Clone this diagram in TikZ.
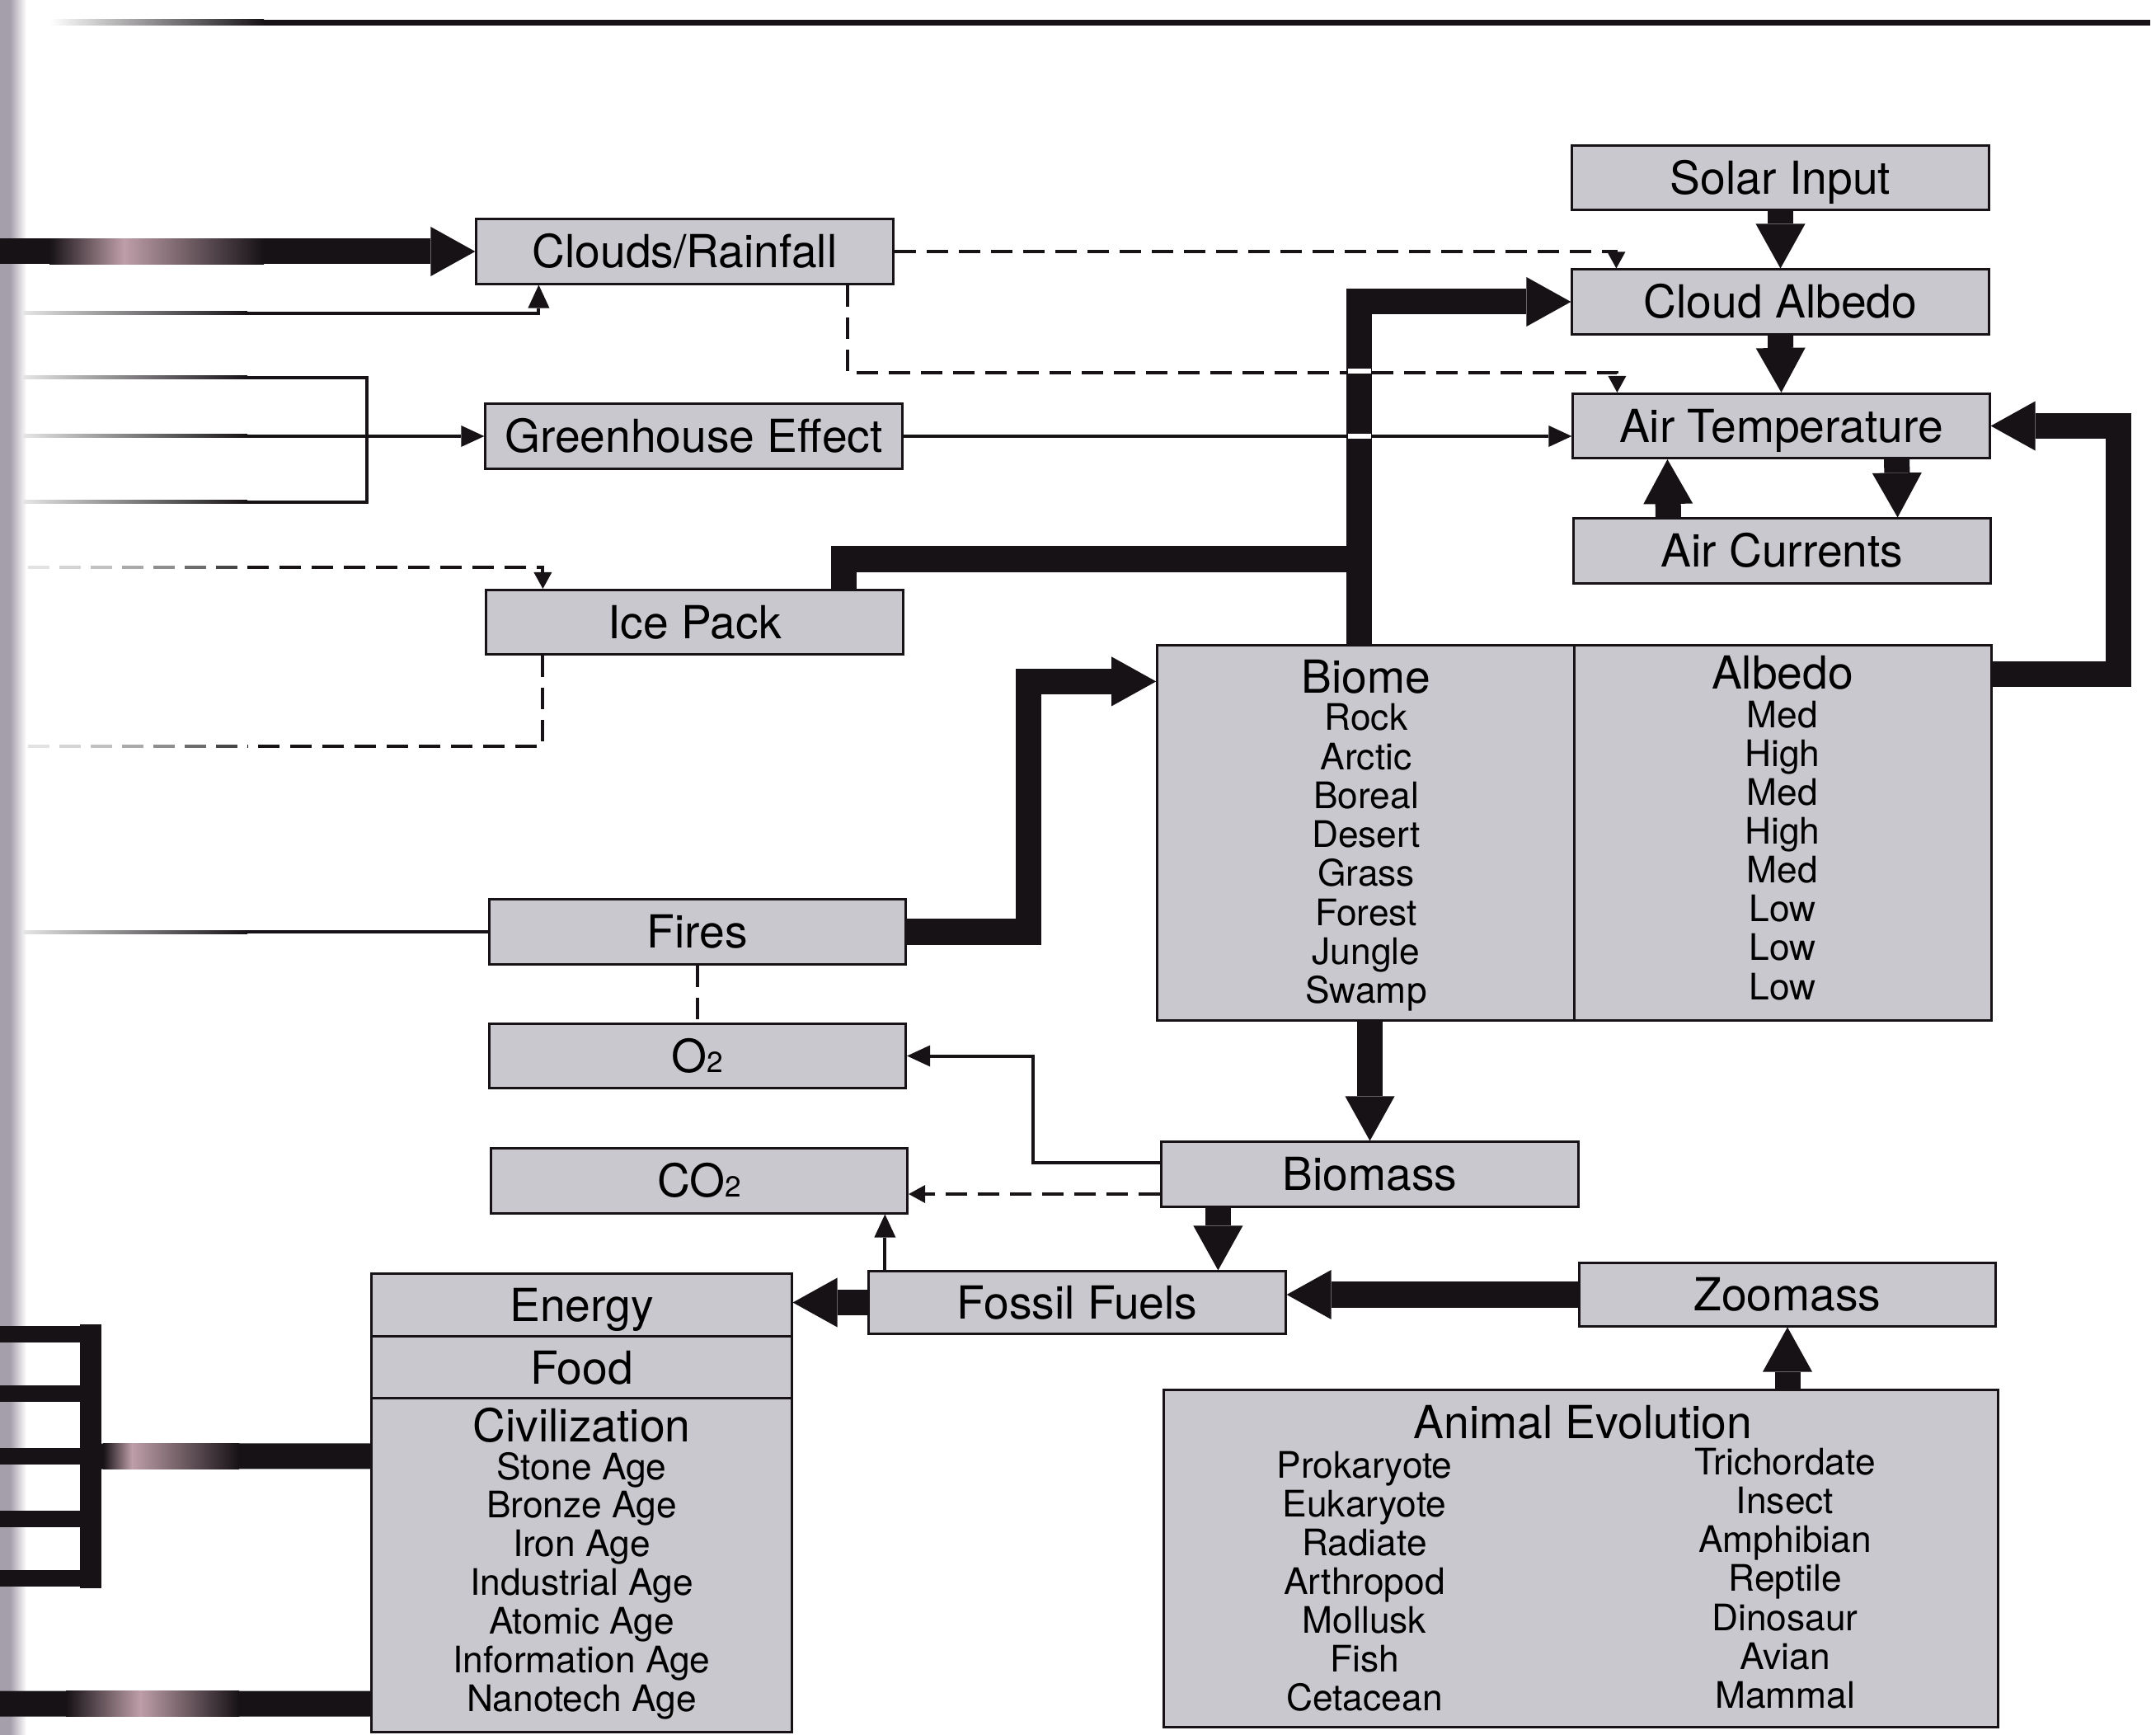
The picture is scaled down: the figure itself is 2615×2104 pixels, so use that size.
\documentclass[tikz,border=0pt]{standalone}
\usepackage{fontspec}
\setmainfont{TeX Gyre Heros}
\usetikzlibrary{arrows.meta,calc}
\definecolor{boxfill}{RGB}{200,200,206}
\definecolor{ink}{RGB}{22,18,22}
\definecolor{tailpink}{RGB}{190,158,168}
\definecolor{gutter}{RGB}{135,125,143}
\newcommand\titlefont{\fontsize{15.7}{18}\selectfont}
\newcommand\itemfont{\fontsize{12.6}{15}\selectfont}
\newcommand\subtwo{{\fontsize{10}{10}\selectfont 2}}
\begin{document}
\begin{tikzpicture}[x=0.01cm,y=-0.01cm,
 box/.style={draw=ink, line width=0.03cm, fill=boxfill, inner sep=0pt, minimum width=5.05cm, minimum height=0.78cm, font=\titlefont, text height=11.3pt, text depth=0pt},
 bigbox/.style={draw=ink, line width=0.03cm, fill=boxfill, inner sep=0pt},
 hd/.style={anchor=base, inner sep=0pt, font=\titlefont},
 itm/.style={anchor=base, inner sep=0pt, font=\itemfont},
 thickline/.style={draw=ink, line width=0.31cm},
 thickarr/.style={thickline, -{Triangle[length=0.54cm,width=0.6cm,line width=0pt]}},
 thinline/.style={draw=ink, line width=0.04cm},
 thinarr/.style={thinline, -{Triangle[length=0.28cm,width=0.26cm,line width=0pt]}},
 dashline/.style={draw=ink, line width=0.04cm, dash pattern=on 0.26cm off 0.13cm},
 dasharr/.style={dashline, -{Triangle[length=0.2cm,width=0.22cm,line width=0pt]}},
]
\fill[white] (0,0) rectangle (2615,2104);
\useasboundingbox (0,0) rectangle (2615,2104);

% page gutter and top rule
\fill[gutter!75] (0,0) rectangle (12,2104);
\shade[left color=gutter!75, right color=white] (12,0) rectangle (32,2104);
\shade[left color=white, right color=ink] (60,24) rectangle (320,31);
\fill[ink] (320,24) rectangle (2608,31);

% ---------- boxes ----------
\node[box] (solar) at (2159.5,215.5) {Solar Input};
\node[box] (calb) at (2159.5,366) {Cloud Albedo};
\node[box] (airt) at (2160.5,516.5) {Air Temperature};
\node[box] (airc) at (2161.5,668) {Air Currents};
\node[box] (clouds) at (830.5,305) {Clouds/Rainfall};
\node[box] (gh) at (841.5,529) {Greenhouse Effect};
\node[box] (ice) at (842.5,754.5) {Ice Pack};
\node[box] (fires) at (846,1130) {Fires};
\node[box] (o2) at (846,1280.5) {O\subtwo};
\node[box] (co2) at (848,1432) {CO\subtwo};
\node[box] (biomass) at (1661.5,1424) {Biomass};
\node[box, minimum height=0.75cm] (fossil) at (1306.5,1579.5) {Fossil Fuels};
\node[box, minimum height=0.76cm] (zoomass) at (2168,1570) {Zoomass};
\node[box, minimum width=5.09cm, minimum height=0.76cm] (energy) at (705.5,1583) {Energy};
\node[box, minimum width=5.09cm, minimum height=0.75cm] (food) at (705.5,1658.5) {Food};
\node[bigbox, minimum width=5.09cm, minimum height=4.04cm] (civ) at (705.5,1898) {};
\node[bigbox, minimum width=10.11cm, minimum height=4.54cm] (biomebox) at (1909.5,1010) {};
\draw[ink, line width=0.03cm] (biomebox.north) -- (biomebox.south);
\node[bigbox, minimum width=10.11cm, minimum height=4.08cm] (animal) at (1917.5,1890) {};

% ---------- texts of the large boxes ----------
\node[hd] (tbiome) at (1657,841) {Biome};
\foreach \t [count=\i from 0] in {Rock,Arctic,Boreal,Desert,Grass,Forest,Jungle,Swamp}
  \node[itm] (bi\i) at (1657,{886+47.2*\i}) {\t};
\node[hd] (talbedo) at (2162,836) {Albedo};
\foreach \t [count=\i from 0] in {Med,High,Med,High,Med,Low,Low,Low}
  \node[itm] (al\i) at (2162,{882.6+47.06*\i}) {\t};
\node[hd] (tciv) at (705.5,1748) {Civilization};
\foreach \t [count=\i from 0] in {Stone Age,Bronze Age,Iron Age,Industrial Age,Atomic Age,Information Age,Nanotech Age}
  \node[itm] (ci\i) at (705.5,{1794+46.9*\i}) {\t};
\node[hd] (tanimal) at (1920,1744) {Animal Evolution};
\foreach \t [count=\i from 0] in {Prokaryote,Eukaryote,Radiate,Arthropod,Mollusk,Fish,Cetacean}
  \node[itm] (an\i) at (1655,{1792+47.1*\i}) {\t};
\foreach \t [count=\i from 0] in {Trichordate,Insect,Amphibian,Reptile,Dinosaur,Avian,Mammal}
  \node[itm] (ar\i) at (2165,{1788+47.25*\i}) {\t};

% ---------- free ends ----------
\coordinate (inClouds) at (0,305);
\coordinate (inRain) at (300,380);
\coordinate (ghA) at (300,458);
\coordinate (ghB) at (300,529);
\coordinate (ghC) at (300,609);
\coordinate (ghT) at (445,458);
\coordinate (ghU) at (445,609);
\coordinate (inIce) at (300,688);
\coordinate (outIce) at (300,905);
\coordinate (outFires) at (300,1130);
\coordinate (icejoin) at (1650,678);
\coordinate (civJ) at (123,1766);
\coordinate (civOut) at (0,2066);

% ---------- thick connectors ----------
\draw[thickline] ([xshift=-0.73cm]ice.north east) |- (icejoin);
\draw[thickarr] ([xshift=2.46cm]biomebox.north west) |- (calb.west);
\draw[thickarr] (fires.east) -- ++(147,0) |- ([yshift=-0.45cm]biomebox.north west);
\draw[thickarr] ([yshift=-0.36cm]biomebox.north east) -- ++(153,0) |- (airt.east);
\draw[thickarr] (solar.south) -- (calb.north);
\draw[thickarr] (calb.south) -- (airt.north);
\draw[thickarr] ([xshift=-1.14cm]airt.south east) -- ([xshift=-1.14cm]airc.north east);
\draw[thickarr] ([xshift=1.16cm]airc.north west) -- ([xshift=1.16cm]airt.south west);
\draw[thickarr] (biomass.north |- biomebox.south) -- (biomass.north);
\coordinate (bmf) at ([xshift=0.70cm]biomass.south west);
\draw[thickarr] (bmf) -- (bmf |- fossil.north);
\draw[thickarr] (fossil.west) -- (fossil.west -| energy.east);
\draw[thickarr] (zoomass.west) -- (zoomass.west -| fossil.east);
\draw[thickarr] (animal.north -| zoomass.south) -- (zoomass.south);
\draw[thickarr] (inClouds) -- (clouds.west);
\draw[thickline] ([yshift=1.32cm]civ.west) -- (civJ);
\draw[thickline] ([yshift=-1.68cm]civ.west) -- (civOut);

% bracket at lower left
\fill[ink] (97,1606) rectangle (123,1926);
\foreach \y in {1618,1690,1766,1842,1914}
  \fill[ink] (0,\y-10) rectangle (110,\y+10);

% ---------- thin and dashed connectors ----------
\draw[thinarr] (inRain) -| ([xshift=0.77cm]clouds.south west);
\draw[thinline] (ghA) -- (ghT) -- (ghU) -- (ghC);
\draw[thinarr] (ghB) -- (gh.west);
\draw[thinarr] (gh.east) -- (gh.east -| airt.west);
\draw[dasharr] (clouds.east) -| ([xshift=0.55cm]calb.north west);
\draw[dasharr] ([xshift=-0.565cm]clouds.south east) -- ++(0,106) -| ([xshift=0.55cm]airt.north west);
\draw[dasharr] (inIce) -| ([xshift=0.70cm]ice.north west);
\draw[dashline] ([xshift=0.70cm]ice.south west) |- (outIce);
\draw[thinline] (fires.west) -- (outFires);
\draw[dashline] (fires.south) -- (o2.north);
\draw[thinarr] ([yshift=0.14cm]biomass.west) -- ++(-154,0) |- (o2.east);
\coordinate (bmc) at ([yshift=-0.24cm]biomass.west);
\draw[dasharr] (bmc) -- (bmc -| co2.east);
\draw[thinarr] ([xshift=0.21cm]fossil.north west) -- ([xshift=0.21cm]fossil.north west |- co2.south);

% white breaks where thin lines cross the thick bar
\draw[white, line width=0.06cm] (1635,450) -- (1663,450);
\draw[white, line width=0.06cm] (1635,529) -- (1663,529);

% ---------- fading tails at the left edge ----------
\foreach \y in {380,458,529,609,1130}
  \shade[left color=black!10, right color=ink] (28,\y-2) rectangle (300,\y+2);
\foreach \y in {688,905}
  \foreach \xs/\c in {262/78,224/62,186/48,148/36,110/26,72/18,34/12}
    \fill[ink!\c] (\xs,\y-2) rectangle (\xs+26,\y+2);
\shade[left color=ink, right color=tailpink] (60,289.5) rectangle (150,320.5);
\shade[left color=tailpink, right color=ink] (150,289.5) rectangle (320,320.5);
\shade[left color=ink, right color=tailpink] (125,1750.5) rectangle (160,1781.5);
\shade[left color=tailpink, right color=ink] (160,1750.5) rectangle (290,1781.5);
\shade[left color=ink, right color=tailpink] (80,2050.5) rectangle (170,2081.5);
\shade[left color=tailpink, right color=ink] (170,2050.5) rectangle (290,2081.5);
\end{tikzpicture}
\end{document}
